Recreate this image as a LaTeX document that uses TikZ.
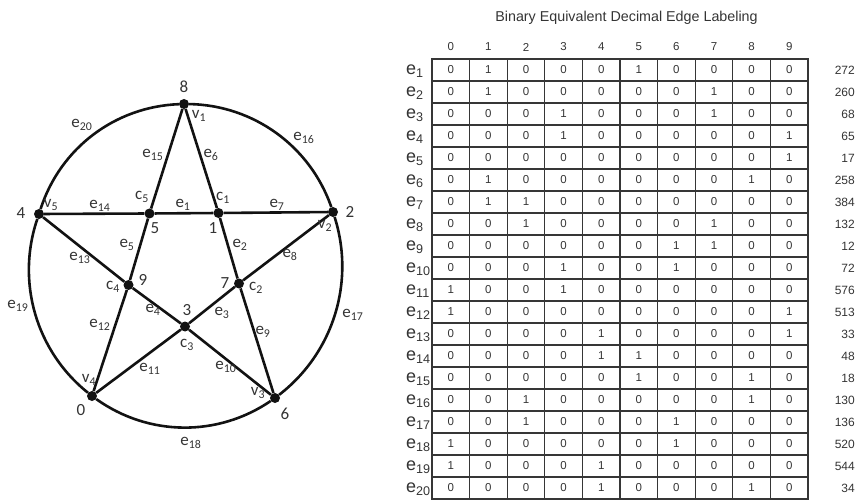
\documentclass[tikz,border=0pt]{standalone}
\usepackage{fontspec}
\setmainfont{Carlito}
\newfontfamily\tabfont{Liberation Sans}
\usetikzlibrary{positioning}
\definecolor{ink}{RGB}{18,18,18}
\definecolor{txt}{RGB}{52,52,52}
\tikzset{
  vtx/.style={circle,fill=ink,inner sep=0pt,minimum size=10pt},
  link/.style={line width=2.6pt,draw=ink},
  rim/.style={link,bend left=35,looseness=0.94},
  lbl/.style={text=txt,inner sep=0pt,font=\fontsize{17}{19}\selectfont},
  % table parts
  cell/.style={draw=ink!85,line width=1.2pt,minimum width=37.6pt,minimum height=22pt,
    inner sep=0pt,text=txt,font=\tabfont\fontsize{11.5}{13}\selectfont},
  hdr/.style={text=txt,inner sep=0pt,font=\tabfont\fontsize{11.5}{13}\selectfont},
  rowlbl/.style={anchor=west,text=txt,inner sep=0pt,font=\tabfont\fontsize{18}{20}\selectfont},
  decval/.style={anchor=east,text=txt,inner sep=0pt,font=\tabfont\fontsize{12}{14}\selectfont},
  ttl/.style={text=txt,inner sep=0pt,font=\tabfont\fontsize{14.3}{16}\selectfont},
}

\begin{document}
\begin{tikzpicture}[x=1pt,y=-1pt]
\useasboundingbox (0,0) rectangle (858,502);

% --- outer vertices ---
\node[vtx] (v1) at (184,104) {};
\node[vtx] (v2) at (333,212) {};
\node[vtx] (v3) at (275,398) {};
\node[vtx] (v4) at (92,396) {};
\node[vtx] (v5) at (39,214) {};

% --- inner crossings ---
\node[vtx] (c1) at (218.5,213) {};
\node[vtx] (c2) at (239,283.5) {};
\node[vtx] (c3) at (185,326.5) {};
\node[vtx] (c4) at (128.5,285) {};
\node[vtx] (c5) at (149.5,213.5) {};

% star
\draw[link] (v1) -- (c5);
\draw[link] (c5) -- (c4);
\draw[link] (c4) -- (v4);
\draw[link] (v1) -- (c1);
\draw[link] (c1) -- (c2);
\draw[link] (c2) -- (v3);
\draw[link] (v5) -- (c5);
\draw[link] (c5) -- (c1);
\draw[link] (c1) -- (v2);
\draw[link] (v5) -- (c4);
\draw[link] (c4) -- (c3);
\draw[link] (c3) -- (v3);
\draw[link] (v2) -- (c2);
\draw[link] (c2) -- (c3);
\draw[link] (c3) -- (v4);

% rim
\draw[rim] (v1) to (v2);
\draw[rim] (v2) to (v3);
\draw[rim] (v3) to (v4);
\draw[rim] (v4) to (v5);
\draw[rim] (v5) to (v1);

% vertex names and numbers
\node[lbl] (n8) at (184,87) {8};
\node[lbl] (tv1) at (199,116) {v\textsubscript{1}};
\node[lbl] (n2) at (350,212) {2};
\node[lbl] (tv2) at (325,226) {v\textsubscript{2}};
\node[lbl] (n6) at (285,414) {6};
\node[lbl] (tv3) at (258,393) {v\textsubscript{3}};
\node[lbl] (n0) at (81,410) {0};
\node[lbl] (tv4) at (89,380) {v\textsubscript{4}};
\node[lbl] (n4) at (21,213) {4};
\node[lbl] (tv5) at (51,205) {v\textsubscript{5}};
\node[lbl] (n1) at (213,228) {1};
\node[lbl] (tc1) at (223,198) {c\textsubscript{1}};
\node[lbl] (n7) at (225,283) {7};
\node[lbl] (tc2) at (256,288) {c\textsubscript{2}};
\node[lbl] (n3) at (187,310) {3};
\node[lbl] (tc3) at (187,345) {c\textsubscript{3}};
\node[lbl] (n9) at (143,280) {9};
\node[lbl] (tc4) at (113,287) {c\textsubscript{4}};
\node[lbl] (n5) at (155,228) {5};
\node[lbl] (tc5) at (142,197) {c\textsubscript{5}};

% edge names
\node[lbl] (e1) at (183,205) {e\textsubscript{1}};
\node[lbl] (e2) at (240,245) {e\textsubscript{2}};
\node[lbl] (e3) at (222,313) {e\textsubscript{3}};
\node[lbl] (e4) at (153,310) {e\textsubscript{4}};
\node[lbl] (e5) at (127,245) {e\textsubscript{5}};
\node[lbl] (e6) at (211,155) {e\textsubscript{6}};
\node[lbl] (e7) at (277,205) {e\textsubscript{7}};
\node[lbl] (e8) at (290,255) {e\textsubscript{8}};
\node[lbl] (e9) at (263,332) {e\textsubscript{9}};
\node[lbl] (e10) at (226,367) {e\textsubscript{10}};
\node[lbl] (e11) at (150,369) {e\textsubscript{11}};
\node[lbl] (e12) at (100,325) {e\textsubscript{12}};
\node[lbl] (e13) at (80,258) {e\textsubscript{13}};
\node[lbl] (e14) at (100,206) {e\textsubscript{14}};
\node[lbl] (e15) at (153,155) {e\textsubscript{15}};
\node[lbl] (e16) at (304,138) {e\textsubscript{16}};
\node[lbl] (e17) at (353,315) {e\textsubscript{17}};
\node[lbl] (e18) at (191,443) {e\textsubscript{18}};
\node[lbl] (e19) at (18,306) {e\textsubscript{19}};
\node[lbl] (e20) at (82,125) {e\textsubscript{20}};

% --- table ---
\node[ttl] (title) at (626.5,18) {Binary Equivalent Decimal Edge Labeling};
\foreach \k in {0,...,9}
  \node[hdr] (h\k) at ({450.8+37.6*\k},47) {\k};

\foreach \r/\bits/\dec [count=\i] in {
  1/{0,1,0,0,0,1,0,0,0,0}/272,
  2/{0,1,0,0,0,0,0,1,0,0}/260,
  3/{0,0,0,1,0,0,0,1,0,0}/68,
  4/{0,0,0,1,0,0,0,0,0,1}/65,
  5/{0,0,0,0,0,0,0,0,0,1}/17,
  6/{0,1,0,0,0,0,0,0,1,0}/258,
  7/{0,1,1,0,0,0,0,0,0,0}/384,
  8/{0,0,1,0,0,0,0,1,0,0}/132,
  9/{0,0,0,0,0,0,1,1,0,0}/12,
  10/{0,0,0,1,0,0,1,0,0,0}/72,
  11/{1,0,0,1,0,0,0,0,0,0}/576,
  12/{1,0,0,0,0,0,0,0,0,1}/513,
  13/{0,0,0,0,1,0,0,0,0,1}/33,
  14/{0,0,0,0,1,1,0,0,0,0}/48,
  15/{0,0,0,0,0,1,0,0,1,0}/18,
  16/{0,0,1,0,0,0,0,0,1,0}/130,
  17/{0,0,1,0,0,0,1,0,0,0}/136,
  18/{1,0,0,0,0,0,1,0,0,0}/520,
  19/{1,0,0,0,1,0,0,0,0,0}/544,
  20/{0,0,0,0,1,0,0,0,1,0}/34}{
  \node[rowlbl] (r\r) at (406,{49+22*\i}) {e\textsubscript{\r}};
  \foreach \b [count=\k from 0] in \bits
    \node[cell] (m\r-\k) at ({450.8+37.6*\k},{48+22*\i}) {\b};
  \node[decval] (d\r) at (855,{48+22*\i}) {\dec};
}
\end{tikzpicture}
\end{document}
